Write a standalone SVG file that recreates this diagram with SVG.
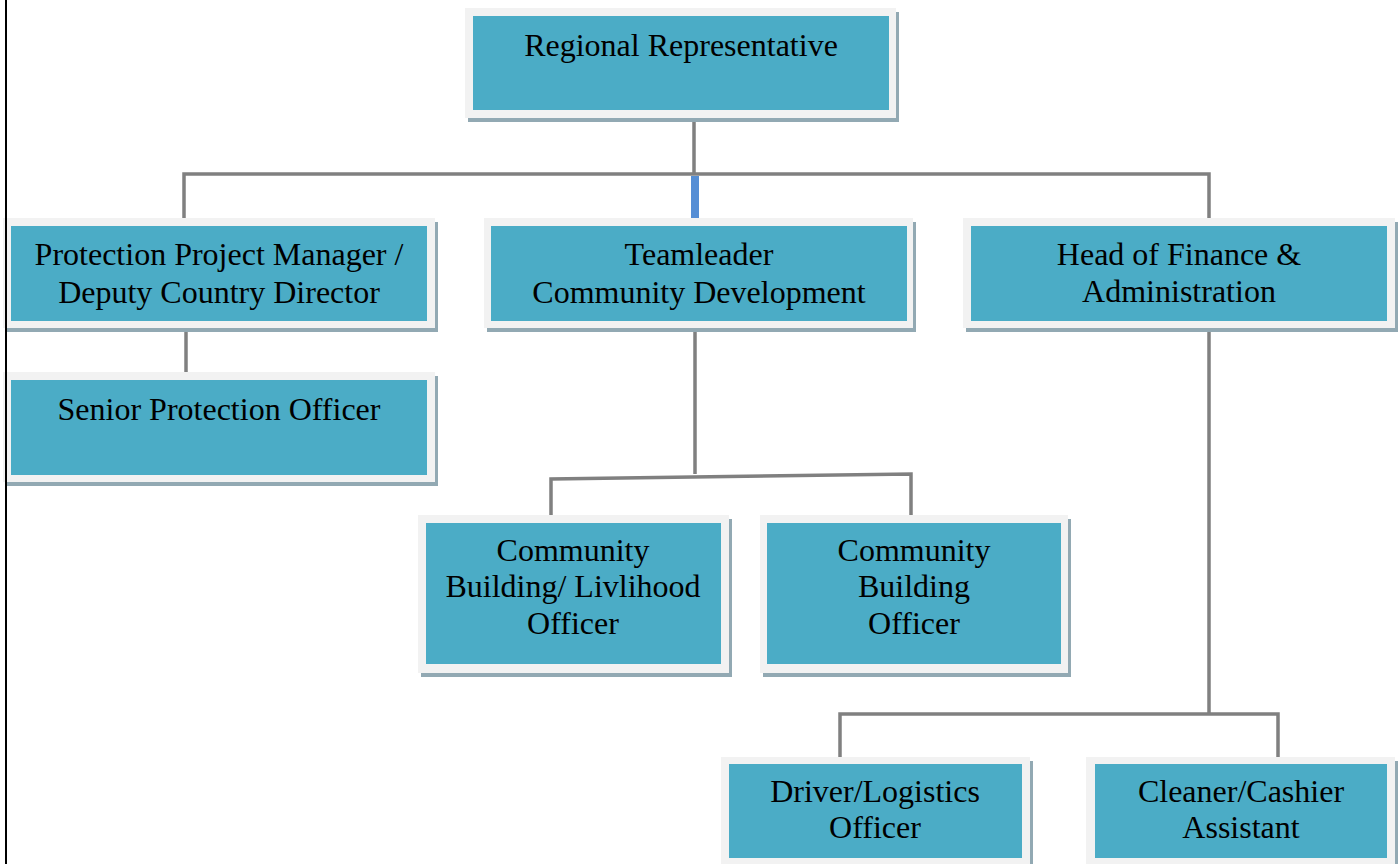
<svg xmlns="http://www.w3.org/2000/svg" width="1399" height="864" viewBox="0 0 1399 864">
<style>
.sh{fill:#92a9b3}
.fr{fill:#f2f2f2}
.bx{fill:#4bacc6}
.t{font-family:"Liberation Serif","Times New Roman",serif;font-size:32px;fill:#000;text-anchor:middle}
.c{stroke:#808080;stroke-width:3.5;fill:none}
</style>
<rect width="1399" height="864" fill="#fff"/>
<g id="connectors">
<path class="c" d="M694 118V174M184 218V174H1209V218"/>
<rect x="691" y="176" width="8" height="46" fill="#558ed5"/>
<path class="c" d="M186 328V372"/>
<path class="c" d="M695 328V474M551 515V479L911 474V515"/>
<path class="c" d="M1209 328V714M840 757V714H1278V757"/>
</g>
<g id="n1">
<rect class="sh" x="468" y="12" width="431" height="110"/>
<rect class="fr" x="465" y="8" width="431" height="110"/>
<rect class="bx" x="473" y="16" width="416" height="94"/>
<text class="t" x="681" y="56">Regional Representative</text>
</g>
<g id="n2">
<rect class="sh" x="6" y="222" width="432" height="110"/>
<rect class="fr" x="3" y="218" width="432" height="110"/>
<rect class="bx" x="11" y="226" width="416" height="95"/>
<text class="t" x="219" y="265">Protection Project Manager /</text>
<text class="t" x="219" y="303">Deputy Country Director</text>
</g>
<g id="n3">
<rect class="sh" x="487" y="222" width="429" height="110"/>
<rect class="fr" x="484" y="218" width="429" height="110"/>
<rect class="bx" x="491" y="226" width="416" height="95"/>
<text class="t" x="699" y="265">Teamleader</text>
<text class="t" x="699" y="303">Community Development</text>
</g>
<g id="n4">
<rect class="sh" x="966" y="222" width="432" height="110"/>
<rect class="fr" x="963" y="218" width="432" height="110"/>
<rect class="bx" x="971" y="226" width="416" height="95"/>
<text class="t" x="1179" y="265">Head of Finance &amp;</text>
<text class="t" x="1179" y="302">Administration</text>
</g>
<g id="n5">
<rect class="sh" x="6" y="376" width="432" height="110"/>
<rect class="fr" x="3" y="372" width="432" height="110"/>
<rect class="bx" x="11" y="380" width="416" height="95"/>
<text class="t" x="219" y="420">Senior Protection Officer</text>
</g>
<g id="n6">
<rect class="sh" x="421" y="519" width="311" height="158"/>
<rect class="fr" x="418" y="515" width="311" height="158"/>
<rect class="bx" x="426" y="523" width="295" height="141"/>
<text class="t" x="573" y="561">Community</text>
<text class="t" x="573" y="597">Building/ Livlihood</text>
<text class="t" x="573" y="634">Officer</text>
</g>
<g id="n7">
<rect class="sh" x="763" y="519" width="308" height="158"/>
<rect class="fr" x="760" y="515" width="308" height="158"/>
<rect class="bx" x="767" y="523" width="294" height="141"/>
<text class="t" x="914" y="561">Community</text>
<text class="t" x="914" y="597">Building</text>
<text class="t" x="914" y="634">Officer</text>
</g>
<g id="n8">
<rect class="sh" x="724" y="761" width="309" height="110"/>
<rect class="fr" x="721" y="757" width="309" height="110"/>
<rect class="bx" x="729" y="764" width="293" height="94"/>
<text class="t" x="875" y="802">Driver/Logistics</text>
<text class="t" x="875" y="838">Officer</text>
</g>
<g id="n9">
<rect class="sh" x="1089" y="761" width="309" height="110"/>
<rect class="fr" x="1086" y="757" width="309" height="110"/>
<rect class="bx" x="1095" y="764" width="292" height="94"/>
<text class="t" x="1241" y="802">Cleaner/Cashier</text>
<text class="t" x="1241" y="838">Assistant</text>
</g>
<rect x="5" y="0" width="2" height="864" fill="#000"/>
</svg>
